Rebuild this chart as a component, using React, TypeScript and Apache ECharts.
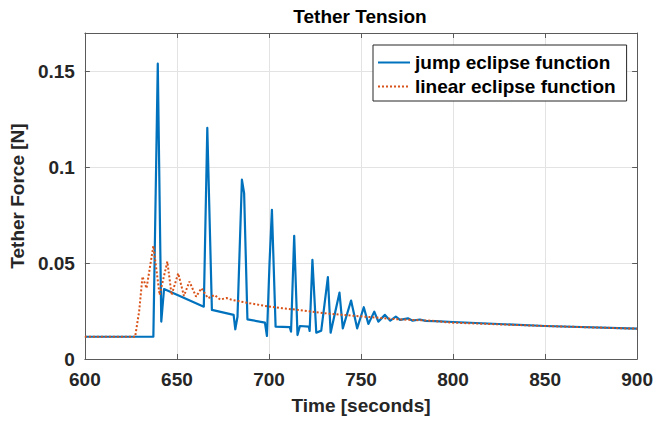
import React, { useEffect, useRef } from "react";
import * as echarts from "echarts";

const titleText = "Tether Tension";
const xAxisName = "Time [seconds]";
const yAxisName = "Tether Force [N]";
const seriesNames = ["jump eclipse function", "linear eclipse function"];

const xTicks = { min: 600, max: 900, interval: 50 };
const yTicks = { min: 0, max: 0.17, interval: 0.05 };

const jumpTime = [
  600, 637.2, 639.6, 641.5, 643.0, 664.6, 666.5, 669.0, 680.8, 681.7, 682.9,
  685.3, 686.5, 688.3, 697.8, 698.9, 700.3, 701.6, 703.6, 711.3, 712.0, 713.7,
  715.5, 716.8, 721.6, 722.1, 723.6, 725.7, 728.4, 732.0, 733.5, 738.3, 740.1,
  744.6, 747.9, 751.5, 754.0, 757.2, 759.4, 763.0, 765.9, 768.9, 771.2, 775.5,
  778.0, 782.0, 785.0, 790.0, 800.0, 850.0, 900.0,
];
const jumpForce = [
  0.0116, 0.0116, 0.154, 0.0195, 0.0365, 0.0273, 0.1205, 0.0256, 0.023, 0.0155, 0.022,
  0.0935, 0.0865, 0.0207, 0.019, 0.012, 0.05, 0.0778, 0.0169, 0.0166, 0.0143, 0.0642,
  0.0125, 0.0172, 0.0169, 0.0146, 0.0517, 0.0137, 0.0148, 0.0427, 0.0137, 0.0346, 0.016,
  0.0305, 0.016, 0.027, 0.0183, 0.0247, 0.0195, 0.023, 0.02, 0.0221, 0.0204, 0.0212,
  0.02, 0.0206, 0.0199, 0.0198, 0.0193, 0.0172, 0.0158,
];

const linearTime = [
  600, 627.3, 629.5, 631.3, 633.5, 637.2, 640.6, 644.8, 647.1, 650.7, 653.8,
  656.8, 660.4, 663.3, 666.9, 670.5, 673.5, 677.0, 680.0, 690.0, 697.8, 707.0,
  715.8, 733.8, 751.8, 769.8, 787.8, 798.6, 850.0, 900.0,
];
const linearForce = [
  0.0116, 0.0116, 0.025, 0.043, 0.0369, 0.059, 0.0334, 0.0508, 0.0334, 0.0447, 0.0329,
  0.0404, 0.0325, 0.0369, 0.0317, 0.0334, 0.031, 0.0318, 0.0308, 0.029, 0.0277, 0.0265,
  0.0256, 0.0235, 0.0221, 0.0207, 0.02, 0.019, 0.0172, 0.0158,
];

const FONT = "'Liberation Sans', Arial, Helvetica, sans-serif";
const AXIS_COLOR = "#5a5a5a";
const TEXT_COLOR = "#262626";

export default function App() {
  const ref = useRef<HTMLDivElement>(null);

  useEffect(() => {
    if (!ref.current) return;
    const chart = echarts.init(ref.current, null, { renderer: "svg" });

    const jumpData = jumpTime.map((t, i) => [t, jumpForce[i]]);
    const linearData = linearTime.map((t, i) => [t, linearForce[i]]);

    const axisLine = { show: true, onZero: false, lineStyle: { color: AXIS_COLOR, width: 1 } };
    const axisTick = { show: true, inside: true, length: 5, lineStyle: { color: AXIS_COLOR, width: 1 } };

    chart.setOption({
      animation: false,
      backgroundColor: "#ffffff",
      title: {
        text: titleText,
        left: 360,
        top: 7,
        textAlign: "center",
        padding: 0,
        textStyle: { fontFamily: FONT, fontSize: 19, fontWeight: "bold", color: "#000" },
      },
      legend: {
        orient: "vertical",
        left: 373,
        top: 45,
        padding: [8, 11, 5, 4],
        itemWidth: 32,
        itemHeight: 10,
        itemGap: 5,
        borderColor: "#262626",
        borderWidth: 1,
        backgroundColor: "#ffffff",
        itemStyle: { opacity: 0 },
        textStyle: { fontFamily: FONT, fontSize: 19, fontWeight: "bold", color: "#000", lineHeight: 19 },
        data: seriesNames,
      },
      grid: { left: 82, right: 18, top: 33, bottom: 62, containLabel: false },
      xAxis: [
        {
          type: "value",
          min: xTicks.min,
          max: xTicks.max,
          interval: xTicks.interval,
          name: xAxisName,
          nameLocation: "middle",
          nameGap: 37,
          nameTextStyle: { fontFamily: FONT, fontSize: 19, fontWeight: "bold", color: TEXT_COLOR },
          axisLine,
          axisTick,
          axisLabel: { margin: 11, fontFamily: FONT, fontSize: 19, fontWeight: "bold", color: TEXT_COLOR },
          splitLine: { show: true, lineStyle: { color: "#e3e3e3", width: 1 } },
        },
        {
          type: "value",
          position: "top",
          min: xTicks.min,
          max: xTicks.max,
          interval: xTicks.interval,
          axisLine,
          axisTick,
          axisLabel: { show: false },
          splitLine: { show: false },
        },
      ],
      yAxis: [
        {
          type: "value",
          min: yTicks.min,
          max: yTicks.max,
          interval: yTicks.interval,
          name: yAxisName,
          nameLocation: "middle",
          nameGap: 43,
          nameTextStyle: { fontFamily: FONT, fontSize: 19, fontWeight: "bold", color: TEXT_COLOR },
          axisLine,
          axisTick,
          axisLabel: {
            margin: 10,
            showMaxLabel: false,
            fontFamily: FONT,
            fontSize: 19,
            fontWeight: "bold",
            color: TEXT_COLOR,
          },
          splitLine: { show: true, lineStyle: { color: "#e3e3e3", width: 1 } },
        },
        {
          type: "value",
          position: "right",
          min: yTicks.min,
          max: yTicks.max,
          interval: yTicks.interval,
          axisLine,
          axisTick,
          axisLabel: { show: false },
          splitLine: { show: false },
        },
      ],
      series: [
        {
          name: seriesNames[0],
          type: "line",
          xAxisIndex: 0,
          yAxisIndex: 0,
          data: jumpData,
          symbol: "none",
          showSymbol: false,
          lineStyle: { color: "#0072BD", width: 2.2, join: "round" },
          itemStyle: { color: "#0072BD" },
        },
        {
          name: seriesNames[1],
          type: "line",
          xAxisIndex: 0,
          yAxisIndex: 0,
          data: linearData,
          symbol: "none",
          showSymbol: false,
          lineStyle: { color: "#D95319", width: 2, type: [2, 2] },
          itemStyle: { color: "#D95319" },
        },
      ],
    });

    return () => chart.dispose();
  }, []);

  return (
    <div
      ref={ref}
      style={{ position: "fixed", left: 0, top: 0, width: 656, height: 421, background: "#fff" }}
    />
  );
}
